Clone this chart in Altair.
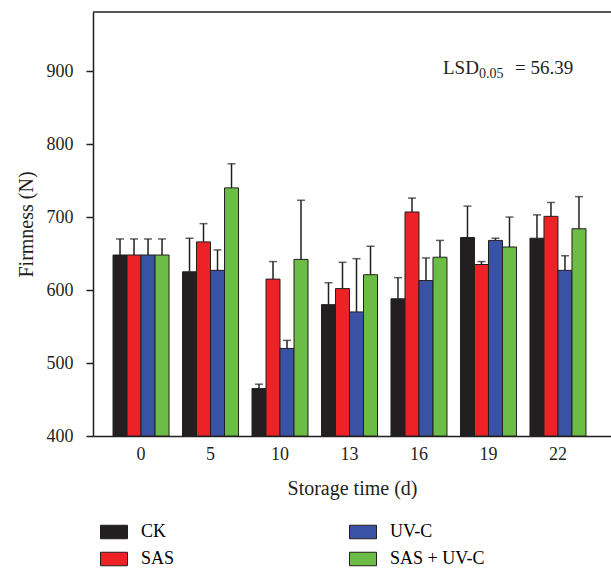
import altair as alt
import pandas as pd

# ---- data ----
days = ["0", "5", "10", "13", "16", "19", "22"]
treatments = ["CK", "SAS", "UV-C", "SAS + UV-C"]          # bar order in each group and legend order
colors = {"CK": "#231f20", "SAS": "#ec2227", "UV-C": "#3a52a3", "SAS + UV-C": "#6cbd45"}

ck = [648, 625, 465, 580, 588, 672, 671]
ck_err = [22, 46, 6, 30, 29, 43, 32]
sas = [648, 666, 615, 602, 707, 635, 701]
sas_err = [22, 25, 24, 36, 19, 4, 19]
uvc = [648, 627, 520, 570, 613, 668, 627]
uvc_err = [22, 28, 11, 73, 31, 3, 20]
combo = [648, 740, 642, 621, 645, 659, 684]
combo_err = [22, 33, 81, 39, 23, 41, 44]

y_ticks = [400, 500, 600, 700, 800, 900]
lsd_parts = ["LSD", "0.05", "= 56.39"]

series = {"CK": (ck, ck_err), "SAS": (sas, sas_err), "UV-C": (uvc, uvc_err), "SAS + UV-C": (combo, combo_err)}
rows = []
for t in treatments:
    vals, errs = series[t]
    for d, v, e in zip(days, vals, errs):
        rows.append({"day": d, "treatment": t, "value": v, "upper": v + e})
df = pd.DataFrame(rows)

FONT = "Liberation Serif"
DARK = "#231f20"
W, H = 518, 424

x_enc = alt.X("day:N", sort=days,
              scale=alt.Scale(paddingInner=0.194, paddingOuter=0.324, align=0.4445),
              axis=alt.Axis(title="Storage time (d)", labelAngle=0, ticks=False, tickSize=0,
                            labelPadding=23, labelBaseline="alphabetic",
                            labelFontSize=18, titleFontSize=20, titleFontWeight="normal",
                            titleBaseline="alphabetic", titleY=58,
                            domainColor=DARK, domainWidth=1.5))
xoff = alt.XOffset("treatment:N", sort=treatments, scale=alt.Scale(paddingInner=0, paddingOuter=0))
y_scale = alt.Scale(domain=[400, 981], nice=False, zero=False)

base = alt.Chart(df).encode(x=x_enc, xOffset=xoff)

bars = base.mark_bar(stroke=DARK, strokeWidth=1).encode(
    y=alt.Y("value:Q", scale=y_scale,
            axis=alt.Axis(title="Firmness (N)", values=y_ticks, grid=False, tickSize=7,
                          tickColor=DARK, tickWidth=1.5, domainColor=DARK, domainWidth=1.5,
                          labelFontSize=18, labelPadding=13,
                          titleFontSize=20, titleFontWeight="normal",
                          titleX=-61, titleY=212, titleBaseline="alphabetic")),
    y2=alt.datum(400),
    color=alt.Color("treatment:N",
                    scale=alt.Scale(domain=treatments, range=[colors[t] for t in treatments]),
                    legend=alt.Legend(title=None, orient="none", legendX=7, legendY=506,
                                      columns=2, columnPadding=172, rowPadding=4,
                                      symbolType="M-1,-0.5L1,-0.5L1,0.5L-1,0.5Z",
                                      symbolSize=729, symbolStrokeColor=DARK,
                                      symbolStrokeWidth=1, symbolOpacity=1,
                                      labelFontSize=18, labelOffset=13, labelFont=FONT)),
)

err_lines = base.mark_rule(color=DARK, strokeWidth=1.5).encode(
    y=alt.Y("value:Q", scale=y_scale), y2="upper:Q")
err_caps = base.mark_tick(color=DARK, thickness=1.5, size=8, orient="horizontal").encode(
    y=alt.Y("upper:Q", scale=y_scale))

ann = pd.DataFrame({"t": [lsd_parts[0]]})
lsd1 = alt.Chart(ann).mark_text(text=lsd_parts[0], font=FONT, fontSize=19, align="left",
                                baseline="alphabetic", color=DARK).encode(
    x=alt.value(350), y=alt.value(62))
lsd2 = alt.Chart(ann).mark_text(text=lsd_parts[1], font=FONT, fontSize=14, align="left",
                                baseline="alphabetic", color=DARK).encode(
    x=alt.value(386), y=alt.value(66))
lsd3 = alt.Chart(ann).mark_text(text=lsd_parts[2], font=FONT, fontSize=19, align="left",
                                baseline="alphabetic", color=DARK).encode(
    x=alt.value(422), y=alt.value(62))

top_line = alt.Chart(ann).mark_rule(color=DARK, strokeWidth=1.5).encode(
    x=alt.value(0), x2=alt.value(W), y=alt.value(0))

chart = alt.layer(bars, err_lines, err_caps, lsd1, lsd2, lsd3, top_line).properties(
    width=W, height=H,
    autosize=alt.AutoSizeParams(type="none"),
    padding={"left": 93, "top": 12, "right": 0, "bottom": 133},
    background="white",
).configure_view(stroke=None).configure_axis(
    labelFont=FONT, titleFont=FONT, labelColor=DARK, titleColor=DARK
).configure_text(font=FONT)

chart.save("out.html", embed_options={"renderer": "svg", "actions": False})
